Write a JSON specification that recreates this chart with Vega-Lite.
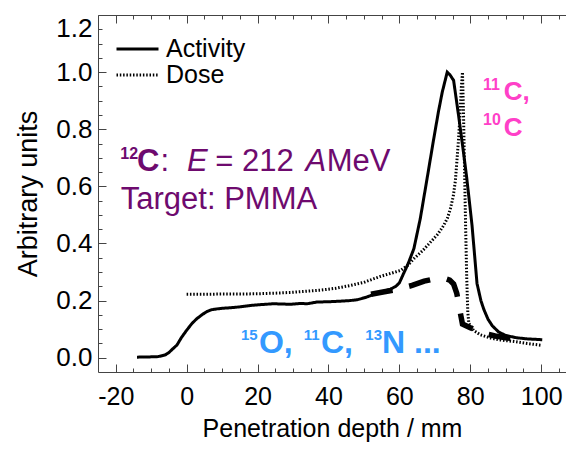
{
  "$schema": "https://vega.github.io/schema/vega-lite/v6.json",
  "autosize": "none",
  "width": 468,
  "height": 357,
  "padding": {"left": 98, "top": 15, "right": 0, "bottom": 84},
  "background": "white",
  "config": {
    "view": {"stroke": null},
    "axis": {"grid": false, "domainColor": "#444", "tickColor": "#444", "domainWidth": 1, "tickWidth": 1, "labelColor": "black", "titleColor": "black", "labelFont": "Liberation Sans", "titleFont": "Liberation Sans", "titleFontWeight": "normal"},
    "legend": {"labelFont": "Liberation Sans"},
    "text": {"font": "Liberation Sans"}
  },
  "datasets": {
    "curves": [
      {"series": "Activity", "depth": -14, "value": 0.002},
      {"series": "Activity", "depth": -10, "value": 0.003},
      {"series": "Activity", "depth": -8, "value": 0.004},
      {"series": "Activity", "depth": -6, "value": 0.01},
      {"series": "Activity", "depth": -5, "value": 0.018},
      {"series": "Activity", "depth": -4, "value": 0.03},
      {"series": "Activity", "depth": -2.7, "value": 0.045},
      {"series": "Activity", "depth": -1.5, "value": 0.07},
      {"series": "Activity", "depth": 0, "value": 0.096},
      {"series": "Activity", "depth": 1.5, "value": 0.12},
      {"series": "Activity", "depth": 2.9, "value": 0.137},
      {"series": "Activity", "depth": 4.5, "value": 0.152},
      {"series": "Activity", "depth": 5.8, "value": 0.162},
      {"series": "Activity", "depth": 7, "value": 0.168},
      {"series": "Activity", "depth": 8.6, "value": 0.171},
      {"series": "Activity", "depth": 10, "value": 0.173},
      {"series": "Activity", "depth": 12.3, "value": 0.175},
      {"series": "Activity", "depth": 15, "value": 0.178},
      {"series": "Activity", "depth": 18, "value": 0.183},
      {"series": "Activity", "depth": 21, "value": 0.186},
      {"series": "Activity", "depth": 24.5, "value": 0.189},
      {"series": "Activity", "depth": 27, "value": 0.188},
      {"series": "Activity", "depth": 29.3, "value": 0.187},
      {"series": "Activity", "depth": 32, "value": 0.19},
      {"series": "Activity", "depth": 34, "value": 0.189},
      {"series": "Activity", "depth": 36.8, "value": 0.195},
      {"series": "Activity", "depth": 40, "value": 0.196},
      {"series": "Activity", "depth": 43.4, "value": 0.198},
      {"series": "Activity", "depth": 46, "value": 0.2},
      {"series": "Activity", "depth": 48.1, "value": 0.203},
      {"series": "Activity", "depth": 50.5, "value": 0.211},
      {"series": "Activity", "depth": 52.8, "value": 0.222},
      {"series": "Activity", "depth": 55, "value": 0.23},
      {"series": "Activity", "depth": 57.5, "value": 0.24},
      {"series": "Activity", "depth": 59, "value": 0.25},
      {"series": "Activity", "depth": 60, "value": 0.262},
      {"series": "Activity", "depth": 61.2, "value": 0.295},
      {"series": "Activity", "depth": 62.5, "value": 0.33},
      {"series": "Activity", "depth": 64.1, "value": 0.382},
      {"series": "Activity", "depth": 65.9, "value": 0.487},
      {"series": "Activity", "depth": 67.8, "value": 0.626},
      {"series": "Activity", "depth": 69.7, "value": 0.767},
      {"series": "Activity", "depth": 71, "value": 0.86},
      {"series": "Activity", "depth": 72.1, "value": 0.93},
      {"series": "Activity", "depth": 73.5, "value": 1.0},
      {"series": "Activity", "depth": 74.3, "value": 0.99},
      {"series": "Activity", "depth": 75.3, "value": 0.971},
      {"series": "Activity", "depth": 76.7, "value": 0.848},
      {"series": "Activity", "depth": 78.2, "value": 0.708},
      {"series": "Activity", "depth": 79.0, "value": 0.63},
      {"series": "Activity", "depth": 80.5, "value": 0.463},
      {"series": "Activity", "depth": 81.9, "value": 0.26},
      {"series": "Activity", "depth": 83, "value": 0.2},
      {"series": "Activity", "depth": 83.8, "value": 0.17},
      {"series": "Activity", "depth": 85, "value": 0.135},
      {"series": "Activity", "depth": 86.2, "value": 0.112},
      {"series": "Activity", "depth": 88, "value": 0.09},
      {"series": "Activity", "depth": 90, "value": 0.078},
      {"series": "Activity", "depth": 93, "value": 0.07},
      {"series": "Activity", "depth": 96, "value": 0.066},
      {"series": "Activity", "depth": 100.3, "value": 0.063},
      {"series": "Dose", "depth": 0, "value": 0.222},
      {"series": "Dose", "depth": 5, "value": 0.222},
      {"series": "Dose", "depth": 10, "value": 0.223},
      {"series": "Dose", "depth": 15, "value": 0.223},
      {"series": "Dose", "depth": 20, "value": 0.224},
      {"series": "Dose", "depth": 25, "value": 0.226},
      {"series": "Dose", "depth": 30, "value": 0.229},
      {"series": "Dose", "depth": 34, "value": 0.233},
      {"series": "Dose", "depth": 38, "value": 0.237},
      {"series": "Dose", "depth": 42, "value": 0.243},
      {"series": "Dose", "depth": 46.2, "value": 0.253},
      {"series": "Dose", "depth": 50, "value": 0.264},
      {"series": "Dose", "depth": 54.7, "value": 0.285},
      {"series": "Dose", "depth": 57.5, "value": 0.295},
      {"series": "Dose", "depth": 60.4, "value": 0.306},
      {"series": "Dose", "depth": 62.5, "value": 0.325},
      {"series": "Dose", "depth": 64.1, "value": 0.347},
      {"series": "Dose", "depth": 66.5, "value": 0.374},
      {"series": "Dose", "depth": 68.8, "value": 0.405},
      {"series": "Dose", "depth": 70.8, "value": 0.432},
      {"series": "Dose", "depth": 72.5, "value": 0.463},
      {"series": "Dose", "depth": 73.6, "value": 0.49},
      {"series": "Dose", "depth": 74.4, "value": 0.522},
      {"series": "Dose", "depth": 75.2, "value": 0.565},
      {"series": "Dose", "depth": 75.8, "value": 0.62},
      {"series": "Dose", "depth": 76.3, "value": 0.7},
      {"series": "Dose", "depth": 76.7, "value": 0.767},
      {"series": "Dose", "depth": 77.1, "value": 0.85},
      {"series": "Dose", "depth": 77.5, "value": 0.95},
      {"series": "Dose", "depth": 77.8, "value": 1.0},
      {"series": "Dose", "depth": 78.1, "value": 0.85},
      {"series": "Dose", "depth": 78.4, "value": 0.65},
      {"series": "Dose", "depth": 78.7, "value": 0.45},
      {"series": "Dose", "depth": 79.0, "value": 0.28},
      {"series": "Dose", "depth": 79.3, "value": 0.16},
      {"series": "Dose", "depth": 79.6, "value": 0.12},
      {"series": "Dose", "depth": 81, "value": 0.095},
      {"series": "Dose", "depth": 82.9, "value": 0.08},
      {"series": "Dose", "depth": 86, "value": 0.068},
      {"series": "Dose", "depth": 88.5, "value": 0.062},
      {"series": "Dose", "depth": 92.3, "value": 0.057},
      {"series": "Dose", "depth": 96, "value": 0.05},
      {"series": "Dose", "depth": 100.3, "value": 0.043}
    ],
    "dashed": [
      {"depth": 52, "value": 0.222},
      {"depth": 55, "value": 0.229},
      {"depth": 58.5, "value": 0.237},
      {"depth": 61, "value": 0.245},
      {"depth": 63.6, "value": 0.253},
      {"depth": 67, "value": 0.268},
      {"depth": 70.2, "value": 0.277},
      {"depth": 72.5, "value": 0.279},
      {"depth": 74.2, "value": 0.272},
      {"depth": 75.3, "value": 0.258},
      {"depth": 76.2, "value": 0.225},
      {"depth": 76.8, "value": 0.185},
      {"depth": 77.3, "value": 0.15},
      {"depth": 77.8, "value": 0.118},
      {"depth": 80, "value": 0.105},
      {"depth": 82, "value": 0.094},
      {"depth": 84, "value": 0.085},
      {"depth": 87, "value": 0.076},
      {"depth": 90, "value": 0.07},
      {"depth": 93, "value": 0.066}
    ],
    "labels": [
      {"group": "purple-sup", "text": "12", "depth": -18.71, "value": 0.697},
      {"group": "purple-bold", "text": "C", "depth": -14.0, "value": 0.6534},
      {"group": "purple-regular", "text": ":", "depth": -7.4, "value": 0.6534},
      {"group": "purple-italic", "text": "E", "depth": 0.11, "value": 0.6534},
      {"group": "purple-regular", "text": "=", "depth": 8.1, "value": 0.6534},
      {"group": "purple-regular", "text": "212", "depth": 15.6, "value": 0.6534},
      {"group": "purple-italic", "text": "A", "depth": 33.5, "value": 0.6534},
      {"group": "purple-regular", "text": "MeV", "depth": 39.5, "value": 0.6534},
      {"group": "purple-regular", "text": "Target: PMMA", "depth": -18.57, "value": 0.522},
      {"group": "pink-sup", "text": "11", "depth": 83.6, "value": 0.938},
      {"group": "pink-bold", "text": "C,", "depth": 89.45, "value": 0.901},
      {"group": "pink-sup", "text": "10", "depth": 83.6, "value": 0.816},
      {"group": "pink-bold", "text": "C", "depth": 89.45, "value": 0.778},
      {"group": "blue-sup", "text": "15", "depth": 15.3, "value": 0.061},
      {"group": "blue-bold", "text": "O,", "depth": 20.4, "value": 0.0151},
      {"group": "blue-sup", "text": "11", "depth": 33.0, "value": 0.061},
      {"group": "blue-bold", "text": "C,", "depth": 37.9, "value": 0.0151},
      {"group": "blue-sup", "text": "13", "depth": 50.4, "value": 0.061},
      {"group": "blue-bold", "text": "N ...", "depth": 55.1, "value": 0.0151}
    ]
  },
  "resolve": {"axis": {"x": "independent", "y": "independent"}},
  "layer": [
    {
      "data": {"name": "curves"},
      "mark": {"type": "line", "strokeWidth": 3, "color": "black", "strokeCap": "butt"},
      "encoding": {
        "x": {"field": "depth", "type": "quantitative", "scale": {"domain": [-25, 107], "nice": false, "zero": false},
              "axis": {"orient": "bottom", "values": [-20, 0, 20, 40, 60, 80, 100], "labelExpr": "datum.value < 0 ? '-' + abs(datum.value) : datum.label", "tickSize": -8, "labelFontSize": 25, "labelPadding": 20, "labelFlush": false, "title": "Penetration depth / mm", "titleFontSize": 25, "titlePadding": 7}},
        "y": {"field": "value", "type": "quantitative", "scale": {"domain": [-0.05, 1.2], "nice": false, "zero": false},
              "axis": {"orient": "left", "values": [0, 0.2, 0.4, 0.6, 0.8, 1.0, 1.2], "format": ".1f", "tickSize": -8, "labelFontSize": 26, "labelPadding": 14, "labelFlush": true, "title": "Arbitrary units", "titleFontSize": 27, "titlePadding": 13}},
        "strokeDash": {"field": "series", "type": "nominal",
              "scale": {"domain": ["Activity", "Dose"], "range": [[1, 0], [1.5, 1.8]]},
              "legend": {"title": null, "orient": "none", "legendX": 17, "legendY": 21, "padding": 0, "symbolType": "stroke", "symbolSize": 1764, "symbolStrokeColor": "black", "symbolStrokeWidth": 3, "labelFontSize": 25, "labelOffset": 6, "rowPadding": 0, "clipHeight": 26, "labelColor": "black"}}
      }
    },
    {
      "data": {"name": "dashed"},
      "mark": {"type": "line", "strokeWidth": 5.5, "color": "black", "strokeDash": [22, 17], "strokeCap": "butt"},
      "encoding": {
        "x": {"field": "depth", "type": "quantitative",
              "axis": {"orient": "bottom", "values": [-15, -10, -5, 5, 10, 15, 25, 30, 35, 45, 50, 55, 65, 70, 75, 85, 90, 95, 105], "tickSize": -4, "labels": false, "domain": false, "title": null}},
        "y": {"field": "value", "type": "quantitative",
              "axis": {"orient": "left", "values": [0.05, 0.1, 0.15, 0.25, 0.3, 0.35, 0.45, 0.5, 0.55, 0.65, 0.7, 0.75, 0.85, 0.9, 0.95, 1.05, 1.1, 1.15], "tickSize": -4, "labels": false, "domain": false, "title": null}}
      }
    },
    {
      "data": {"name": "labels"},
      "transform": [{"filter": "datum.group === 'purple-regular'"}],
      "mark": {"type": "text", "align": "left", "baseline": "alphabetic", "font": "Liberation Sans", "fontSize": 31, "color": "#6e0a6e"},
      "encoding": {
        "x": {"field": "depth", "type": "quantitative",
              "axis": {"orient": "top", "values": [-20, 0, 20, 40, 60, 80, 100], "tickSize": -8, "labels": false, "title": null}},
        "y": {"field": "value", "type": "quantitative", "axis": null},
        "text": {"field": "text"}
      }
    },
    {
      "data": {"name": "labels"},
      "transform": [{"filter": "datum.group === 'purple-bold'"}],
      "mark": {"type": "text", "align": "left", "baseline": "alphabetic", "font": "Liberation Sans", "fontSize": 31, "fontWeight": "bold", "color": "#6e0a6e"},
      "encoding": {
        "x": {"field": "depth", "type": "quantitative",
              "axis": {"orient": "top", "values": [-15, -10, -5, 5, 10, 15, 25, 30, 35, 45, 50, 55, 65, 70, 75, 85, 90, 95, 105], "tickSize": -4, "labels": false, "domain": false, "title": null}},
        "y": {"field": "value", "type": "quantitative", "axis": null},
        "text": {"field": "text"}
      }
    },
    {
      "data": {"name": "labels"},
      "transform": [{"filter": "datum.group === 'purple-italic'"}],
      "mark": {"type": "text", "align": "left", "baseline": "alphabetic", "font": "Liberation Sans", "fontSize": 31, "fontStyle": "italic", "color": "#6e0a6e"},
      "encoding": {
        "x": {"field": "depth", "type": "quantitative", "axis": null},
        "y": {"field": "value", "type": "quantitative", "axis": null},
        "text": {"field": "text"}
      }
    },
    {
      "data": {"name": "labels"},
      "transform": [{"filter": "datum.group === 'purple-sup'"}],
      "mark": {"type": "text", "align": "left", "baseline": "alphabetic", "font": "Liberation Sans", "fontSize": 16, "fontWeight": "bold", "color": "#6e0a6e"},
      "encoding": {
        "x": {"field": "depth", "type": "quantitative", "axis": null},
        "y": {"field": "value", "type": "quantitative", "axis": null},
        "text": {"field": "text"}
      }
    },
    {
      "data": {"name": "labels"},
      "transform": [{"filter": "datum.group === 'pink-bold'"}],
      "mark": {"type": "text", "align": "left", "baseline": "alphabetic", "font": "Liberation Sans", "fontSize": 26, "fontWeight": "bold", "color": "#ff40c8"},
      "encoding": {
        "x": {"field": "depth", "type": "quantitative", "axis": null},
        "y": {"field": "value", "type": "quantitative", "axis": null},
        "text": {"field": "text"}
      }
    },
    {
      "data": {"name": "labels"},
      "transform": [{"filter": "datum.group === 'pink-sup'"}],
      "mark": {"type": "text", "align": "left", "baseline": "alphabetic", "font": "Liberation Sans", "fontSize": 16, "fontWeight": "bold", "color": "#ff40c8"},
      "encoding": {
        "x": {"field": "depth", "type": "quantitative", "axis": null},
        "y": {"field": "value", "type": "quantitative", "axis": null},
        "text": {"field": "text"}
      }
    },
    {
      "data": {"name": "labels"},
      "transform": [{"filter": "datum.group === 'blue-bold'"}],
      "mark": {"type": "text", "align": "left", "baseline": "alphabetic", "font": "Liberation Sans", "fontSize": 32, "fontWeight": "bold", "color": "#3399ff"},
      "encoding": {
        "x": {"field": "depth", "type": "quantitative", "axis": null},
        "y": {"field": "value", "type": "quantitative", "axis": null},
        "text": {"field": "text"}
      }
    },
    {
      "data": {"name": "labels"},
      "transform": [{"filter": "datum.group === 'blue-sup'"}],
      "mark": {"type": "text", "align": "left", "baseline": "alphabetic", "font": "Liberation Sans", "fontSize": 15, "fontWeight": "bold", "color": "#3399ff"},
      "encoding": {
        "x": {"field": "depth", "type": "quantitative", "axis": null},
        "y": {"field": "value", "type": "quantitative", "axis": null},
        "text": {"field": "text"}
      }
    }
  ]
}
